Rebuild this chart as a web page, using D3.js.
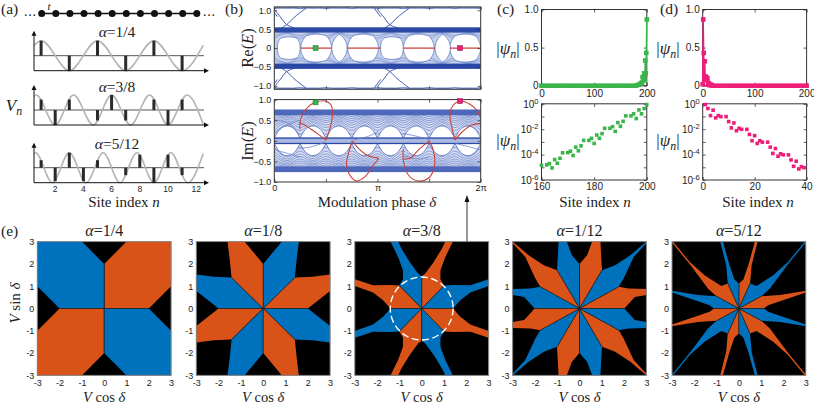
<!DOCTYPE html>
<html><head><meta charset="utf-8">
<script src="https://cdn.jsdelivr.net/npm/d3@7/dist/d3.min.js"></script>
<style>html,body{margin:0;padding:0;background:#fff}svg{display:block}</style></head><body>
<script>
// ---------- (a) lattice and modulation ----------
const chainSites=[1,2,3,4,5,6,7,8,9,10,11,12];
const siteTicks=[2,4,6,8,10,12];
const alphaLabelsA=["1/4","3/8","5/12"];
const waveA=[[.5,.7],[1,1],[3,-1],[5,1],[7,-1],[9,1],[11,-1],[12.5,.7]];
const waveB=[[.5,.9],[.65,1],[2,-1],[3.3,1],[4.7,-1],[6,1],[7.35,-1],[8.7,1],[10,-1],[11.35,1],[12.5,-.95]];
const waveC=[[.5,.95],[.6,1],[1.8,-1],[3,1],[4.2,-1],[5.4,1],[6.6,-1],[7.8,1],[9,-1],[10.2,1],[11.4,-1],[12.5,.95]];
const stemsA=[[1,1],[3,-1],[5,1],[7,-1],[9,1],[11,-1]];
const stemsB=[[1,.7],[2,-1],[3,.7],[5,-.7],[6,1],[7,-.7],[9,.7],[10,-1],[11,.7]];
const stemsC=[[1,.5],[2,-.9],[3,1],[4,-.9],[5,.5],[7,-.5],[8,.87],[9,-1],[10,.87],[11,-.5]];

// ---------- (b) spectrum, delta in units of pi ----------
const reTicks=[-1,-.5,0,.5,1], imTicks=[-1,-.5,0,.5,1], phaseTicks=[0,.5,1,1.5,2];
const holeEllipse=[[0,0],[.003,.1],[.015,.2],[.04,.27],[.11,.3],[.18,.27],[.205,.2],[.217,.1],[.22,0]];
const holeDome=[[0,0],[.004,.08],[.015,.17],[.035,.27],[.07,.34],[.15,.37],[.23,.34],[.265,.27],[.285,.17],[.296,.08],[.3,0]];
const holeLens=[[0,0],[.005,.1],[.02,.2],[.045,.3],[.075,.36],[.105,.3],[.13,.2],[.145,.1],[.15,0]];
const ellipseStarts=[.03,1.03], domeStarts=[.256,.71,1.25,1.7], lensStarts=[.556,1.557];
const redSegments=[[.256,.556],[.71,1.03],[1.25,1.557],[1.7,2]];
const edgeA=[[0,1.02],[.06,.82],[.12,.62],[.2,.53]];
const edgeB=[[.31,1.06],[.2,.83],[.12,.62],[.06,.52]];
const edgeC=[[-.03,1.05],[.03,.83]];
const outerLevels=[[1.055,1.085],[1.07,1.045]];
const reLace=[[.39,.26],[.41,.33]];
const imLevels=[[.39,.16],[.44,.25],[.48,.32],[.52,.38],[.56,.44],[.59,.49],[.62,.54],[.65,.59]];
const archProfile=[[0,.06],[.012,.12],[.035,.22],[.075,.32],[.125,.36],[.175,.32],[.215,.22],[.238,.12],[.25,.06]];
const archStarts=[0,.25,.5,.75,1,1.25,1.5,1.75];
const imThin=[
 [[.007,.505],[.136,.424],[.249,.14]],
 [[.007,.22],[.12,.383],[.249,.505]],
 [[.249,-.183],[.362,-.143],[.501,-.02]],
 [[1.25,.18],[1.395,.1],[1.51,.02]],
 [[1.751,-.06],[1.88,-.14],[1.99,-.22]],
 [[.77,.02],[.9,.1],[1.01,.22]],
 [[.007,-.22],[.12,-.3],[.249,-.4]],
 [[1.25,-.36],[1.4,-.44],[1.5,-.4]]];
const redLoops=[
 [[.249,.278],[.249,.465],[.281,.667],[.34,.853],[.401,.934],[.491,.966],[.55,.869],[.563,.626],[.54,.3],[.501,.02]],
 [[.501,.02],[.427,.157],[.346,.3],[.281,.4],[.249,.424]],
 [[.756,0],[.725,-.25],[.7,-.55],[.72,-.78],[.798,-.976],[.879,-.871],[.96,-.588],[1,-.47],[1.008,-.41]],
 [[.756,0],[.815,-.183],[.896,-.345],[1.008,-.426]],
 [[1.25,-.2],[1.25,-.466],[1.299,-.83],[1.395,-.976],[1.493,-.91],[1.551,-.628],[1.541,-.224],[1.499,0]],
 [[1.499,0],[1.395,-.224],[1.315,-.426],[1.25,-.44]],
 [[1.751,.02],[1.719,.343],[1.702,.667],[1.735,.869],[1.803,.966],[1.896,.885],[1.961,.747],[2,.545]],
 [[1.751,.02],[1.822,.22],[1.913,.383],[2,.424]]];
const greenMarks=[[.4,0],[.4,.934]], pinkMarks=[[1.8,0],[1.8,.966]];

// ---------- (c)(d) wave functions ----------
const psiCFlat=[0,8,16,24,32,40,48,56,64,72,80,88,96,104,112,120,128,136,144,152,160,168,176];
const psiCTail=[[180,.001],[184,.012],[187,.016],[189,.033],[191,.042],[192,.112],[194,.112],[195,.162],[196,.069],[197,.33],[198,.162],[199,.43],[200,.87]];
const psiDHead=[[0,.02],[1,.87],[2,.43],[3,.12],[4,.32],[5,.08],[6,.12],[7,.1],[9,.1],[10,.04],[11,.013],[12,.031],[13,.008],[14,.012],[15,.01],[17,.01],[19,.001]];
const psiDFlat=[24,32,40,48,56,64,72,80,88,96,104,112,120,128,136,144,152,160,168,176,184,192,200];
const logC=[[160,-4.84],[162,-4.81],[163,-4.71],[164,-5.05],[165,-4.39],[166,-4.68],[167,-4.29],[168,-3.86],[170,-3.84],[171,-3.73],[172,-4.07],[173,-3.41],[174,-3.7],[175,-3.31],[176,-2.88],[178,-2.88],[179,-2.72],[180,-3.12],[181,-2.46],[182,-2.72],[183,-2.35],[184,-1.93],[186,-1.93],[187,-1.8],[188,-2.17],[189,-1.48],[190,-1.77],[191,-1.38],[192,-.95],[194,-.95],[195,-.79],[196,-1.16],[197,-.48],[198,-.79],[199,-.37],[200,-.06]];
const logD=[[1,-.06],[2,-.37],[3,-.93],[4,-.5],[5,-1.11],[6,-.93],[7,-1.01],[9,-1.01],[10,-1.4],[11,-1.9],[12,-1.51],[13,-2.12],[14,-1.93],[15,-2.01],[17,-2.01],[18,-2.41],[19,-2.91],[20,-2.51],[21,-3.12],[22,-2.91],[23,-3.02],[25,-3.02],[26,-3.41],[27,-3.91],[28,-3.52],[29,-4.13],[30,-3.94],[31,-4.02],[33,-4.02],[34,-4.42],[35,-4.92],[36,-4.52],[37,-5.13],[38,-4.95],[39,-5.03]];
const logTicks=[0,-1,-2,-3,-4,-5,-6];

// ---------- (e) phase diagrams: first-quadrant regions in (V cos, V sin) ----------
const ticksE=[-3,-2,-1,0,1,2,3];
const alphaLabelsE=["1/4","1/8","3/8","1/12","5/12"];
const regions14=[{c:"o",p:[[0,0],[0,2],[1,3],[3,3],[3,1],[2,0]]}];
const regions18=[
 {c:"o",p:[[0,0],[2,0],[3,.78],[3,1.52],[2.2,1.42],[1.42,1.39]]},
 {c:"b",p:[[0,0],[1.42,1.39],[1.5,2.2],[1.6,3],[.84,3],[0,2]]}];
const regions38=[
 {c:"o",p:[[0,0],[0,1.45],[.16,1.57],[.54,2.09],[.91,2.69],[1.06,3],[1.4,3],[1.06,2.31],[.84,1.72],[.84,1.3],[1.01,1.03]]},
 {c:"b",p:[[0,0],[1.01,1.03],[1.4,1.05],[2.18,1.04],[3,1.31],[3,1.01],[2.18,.72],[1.73,.37],[1.4,0]]}];
const regions112=[
 {c:"o",p:[[0,0],[0,2],[.34,2.39],[.57,3],[.94,3],[.97,2.39],[1.01,1.72]]},
 {c:"b",p:[[0,0],[1.01,1.72],[1.6,1.94],[2.28,2.39],[3,3],[3,2.93],[2.43,2.31],[1.98,1.34],[1.76,.97]]},
 {c:"o",p:[[0,0],[1.76,.97],[2.2,.9],[3,.87],[3,.6],[2.48,.52],[2.01,0]]}];
const regions512=[
 {c:"o",p:[[0,0],[0,1.12],[.2,1.3],[.42,1.94],[.72,3],[.84,3],[.57,1.94],[.5,1.12]]},
 {c:"b",p:[[0,0],[.5,1.12],[.79,1.01],[1.54,1.49],[2.2,2.09],[2.96,3],[3,3],[3,2.96],[2.2,1.98],[1.39,.9],[1.01,.55]]},
 {c:"o",p:[[0,0],[1.01,.55],[1.84,.6],[3,.8],[3,.72],[1.84,.33],[1.31,.15],[1.12,0]]}];
const diagrams=[regions14,regions18,regions38,regions112,regions512];
const circleRadius=1.41;

// ---------- drawing ----------
const W=814,H=404;
const SERIF="'Liberation Serif',serif", SANS="'Liberation Sans',sans-serif";
const BLUE="#0072bd",ORANGE="#d95319",GREEN="#39b54a",PINK="#ed1e79",RED="#c8403a";
const DARKB="#2a48a6",MIDB="#6c84c9";
const svg=d3.select("body").append("svg").attr("width",W).attr("height",H).attr("viewBox",`0 0 ${W} ${H}`);
svg.append("rect").attr("width",W).attr("height",H).attr("fill","#fff");

function label(x,y,parts,o={}){
  const t=svg.append("text").attr("font-family",o.font||SERIF).attr("font-size",o.size||14)
    .attr("text-anchor",o.anchor||"middle").attr("fill","#222")
    .attr("transform",`translate(${x},${y})`+(o.rot?` rotate(${o.rot})`:""));
  let shift=0;
  parts.forEach(p=>{
    const s=t.append("tspan").text(p[0]);
    if(p[1]&&p[1].includes("i")) s.attr("font-style","italic");
    let d=0, size=o.size||14;
    if(p[1]&&p[1].includes("s")){d=size*.22; s.attr("font-size",size*.7);}
    s.attr("dy",d-shift); shift=d;
  });
  return t;
}
const tag=(x,y,s)=>label(x,y,[[s]],{size:15.5,anchor:"start"});
tag(1,14,"(a)");tag(225,14,"(b)");tag(497,14,"(c)");tag(660,14,"(d)");tag(1,236,"(e)");

function frame(g,x,y,o){
  const [x0,x1]=x.range(),[y0,y1]=y.range();
  const size=o.tick===undefined?3:o.tick, fs=o.fs||9;
  const style=a=>{a.select(".domain").remove();a.selectAll("line").attr("stroke","#333").attr("stroke-width",.8);
    a.selectAll("text").attr("font-family",SANS).attr("font-size",fs).attr("fill","#222");};
  const xa=d3.axisBottom(x).tickValues(o.xv).tickSizeInner(-size).tickSizeOuter(0).tickPadding(o.xpad||4).tickFormat(o.xf||(d=>String(d)));
  const ya=d3.axisLeft(y).tickValues(o.yv).tickSizeInner(-size).tickSizeOuter(0).tickPadding(o.ypad||3).tickFormat(o.yf||(d=>String(d)));
  g.append("g").attr("transform",`translate(0,${y0})`).call(xa).call(style);
  const yg=g.append("g").attr("transform",`translate(${x0},0)`).call(ya).call(style);
  g.append("g").attr("transform",`translate(0,${y1})`).call(d3.axisTop(x).tickValues(o.xv).tickSizeInner(-size).tickSizeOuter(0).tickFormat("")).call(style);
  g.append("g").attr("transform",`translate(${x1},0)`).call(d3.axisRight(y).tickValues(o.yv).tickSizeInner(-size).tickSizeOuter(0).tickFormat("")).call(style);
  g.append("rect").attr("x",x0).attr("y",y1).attr("width",x1-x0).attr("height",y0-y1).attr("fill","none").attr("stroke",o.box||"#333").attr("stroke-width",1);
  return yg;
}

// ---- (a)
const xn=d3.scaleLinear([0,13],[27,210.3]);
const gA=svg.append("g");
const chainY=13.5;
gA.append("line").attr("x1",xn(1)).attr("x2",xn(12)).attr("y1",chainY).attr("y2",chainY).attr("stroke","#111").attr("stroke-width",1.3);
gA.selectAll("circle.site").data(chainSites).join("circle").attr("cx",d=>xn(d)+.6).attr("cy",chainY).attr("r",3.5).attr("fill","#111");
label(24,15.5,[["..."]],{size:14,anchor:"start"}).attr("letter-spacing",.8);
label(203,15.5,[["..."]],{size:14,anchor:"start"}).attr("letter-spacing",.8);
label(49,9.5,[["t","i"]],{size:11});
const rows=[{mid:55.7,w:waveA,s:stemsA},{mid:110,w:waveB,s:stemsB},{mid:167.7,w:waveC,s:stemsC}];
rows.forEach((r,i)=>{
  const y=d3.scaleLinear([-1,1],[r.mid+15,r.mid-15]);
  const base=r.mid+15;
  gA.append("line").attr("x1",34).attr("x2",204).attr("y1",r.mid).attr("y2",r.mid).attr("stroke","#555").attr("stroke-width",1);
  gA.append("path").attr("d",d3.line().x(d=>xn(d[0])).y(d=>y(d[1])).curve(d3.curveMonotoneX)(r.w)).attr("fill","none").attr("stroke","#b4b4b4").attr("stroke-width",1.6);
  gA.selectAll(null).data(r.s).join("line").attr("x1",d=>xn(d[0])).attr("x2",d=>xn(d[0])).attr("y1",y(0)).attr("y2",d=>y(d[1])).attr("stroke","#2a2a2a").attr("stroke-width",3);
  gA.append("line").attr("x1",34).attr("x2",205).attr("y1",base).attr("y2",base).attr("stroke","#111").attr("stroke-width",1);
  gA.append("line").attr("x1",34).attr("x2",34).attr("y1",base).attr("y2",r.mid-21).attr("stroke","#111").attr("stroke-width",1);
  gA.append("path").attr("d",d3.line()([[209,base],[204,base-2.5],[204,base+2.5]])).attr("fill","#111");
  gA.append("path").attr("d",d3.line()([[34,r.mid-25],[31.5,r.mid-20],[36.5,r.mid-20]])).attr("fill","#111");
  label(117,r.mid-18.5,[["α","i"],["=","" ],[alphaLabelsA[i]]],{size:15.5});
});
gA.selectAll(null).data(siteTicks).join("text").attr("x",d=>xn(d)).attr("y",191.5).attr("text-anchor","middle").attr("font-family",SANS).attr("font-size",8.5).attr("fill","#222").text(d=>d);
label(124,207,[["Site index "],["n","i"]],{size:15});
label(14,111,[["V","i"],["n","is"]],{size:17});

// ---- (b)
const xd=d3.scaleLinear([0,2],[274.3,480.7]);
const phaseFmt=d=>d===0?"0":d===1?"π":d===2?"2π":"";
const yRe=d3.scaleLinear([-1.09,1.09],[89.3,6.9]);
const yIm=d3.scaleLinear([-1,1],[182,99.6]);
svg.append("defs").html(`<clipPath id="cRe"><rect x="274.3" y="6.9" width="206.4" height="82.4"/></clipPath><clipPath id="cIm"><rect x="274.3" y="99.6" width="206.4" height="82.4"/></clipPath>`);
const lineOf=y=>d3.line().x(d=>xd(d[0])).y(d=>y(d[1]));
// level lines: a maximum at the middle of a cell, a minimum at its ends
const cellNodes=[0,.125,.25,.375,.5,.625,.75,.875,1,1.125,1.25,1.375,1.5,1.625,1.75,1.875,2];
const levelLine=(l,sign)=>cellNodes.map((d,i)=>[d,sign*(i%2?l[0]:l[1])]);
const gRe=svg.append("g").attr("clip-path","url(#cRe)");
const band=(g,y,a,b,f)=>g.append("rect").attr("x",xd(0)).attr("width",xd(2)-xd(0)).attr("y",y(b)).attr("height",y(a)-y(b)).attr("fill",f);
band(gRe,yRe,-.42,.42,"#c4cfec");
reLace.forEach(l=>[1,-1].forEach(s=>gRe.append("path").attr("d",lineOf(yRe).curve(d3.curveMonotoneX)(levelLine(l,s))).attr("fill","none").attr("stroke",MIDB).attr("stroke-width",.6)));
band(gRe,yRe,.41,.55,DARKB);band(gRe,yRe,-.55,-.41,DARKB);
const holeArea=d3.area().x(d=>xd(d[0])).y0(d=>yRe(-d[1])).y1(d=>yRe(d[1])).curve(d3.curveMonotoneX);
[[holeEllipse,ellipseStarts],[holeDome,domeStarts],[holeLens,lensStarts]].forEach(([prof,starts])=>{
  starts.forEach(s=>gRe.append("path").attr("d",holeArea(prof.map(p=>[p[0]+s,p[1]]))).attr("fill","#fff").attr("stroke","#5570c0").attr("stroke-width",.7));
});
gRe.selectAll(null).data(redSegments).join("line").attr("x1",d=>xd(d[0])).attr("x2",d=>xd(d[1])).attr("y1",yRe(0)).attr("y2",yRe(0)).attr("stroke",RED).attr("stroke-width",1.1);
[0,1].forEach(shift=>[1,-1].forEach(s=>[edgeA,edgeB,edgeC].forEach(e=>{
  gRe.append("path").attr("d",lineOf(yRe).curve(d3.curveCatmullRom)(e.map(p=>[p[0]+shift,s*p[1]]))).attr("fill","none").attr("stroke",DARKB).attr("stroke-width",.9);
})));
outerLevels.forEach(l=>[1,-1].forEach(s=>gRe.append("path").attr("d",lineOf(yRe).curve(d3.curveMonotoneX)(levelLine(l,s))).attr("fill","none").attr("stroke","#4360b6").attr("stroke-width",.8)));
gRe.selectAll(null).data(greenMarks.slice(0,1)).join("rect").attr("x",d=>xd(d[0])-2.5).attr("y",d=>yRe(d[1])-2.5).attr("width",5).attr("height",5).attr("fill",GREEN).attr("stroke","#1d6e2b").attr("stroke-width",.5);
gRe.selectAll(null).data(pinkMarks.slice(0,1)).join("rect").attr("x",d=>xd(d[0])-2.5).attr("y",d=>yRe(d[1])-2.5).attr("width",5).attr("height",5).attr("fill",PINK).attr("stroke","#8c1047").attr("stroke-width",.5);
frame(svg.append("g"),xd,yRe,{xv:phaseTicks,yv:reTicks,xf:()=>"",yf:d=>d===0?"0":d3.format(".1f")(d)});

const gIm=svg.append("g").attr("clip-path","url(#cIm)");
band(gIm,yIm,-.75,.75,"#d5dcf2");
[1,-1].forEach(s=>{
  imLevels.forEach(l=>gIm.append("path").attr("d",lineOf(yIm).curve(d3.curveMonotoneX)(levelLine(l,s))).attr("fill","none").attr("stroke",MIDB).attr("stroke-width",.7));
  archStarts.forEach(a=>{
    const top=archProfile.map(p=>[p[0]+a,s*p[1]]);
    gIm.append("path").attr("d",d3.area().x(d=>xd(d[0])).y0(yIm(s*.06)).y1(d=>yIm(d[1])).curve(d3.curveMonotoneX)(top)).attr("fill","#fff").attr("stroke","#4a66ba").attr("stroke-width",.8);
  });
});
band(gIm,yIm,.62,.76,"#4d68bb");band(gIm,yIm,-.76,-.62,"#4d68bb");
band(gIm,yIm,-.08,.08,"#a9b8e2");
band(gIm,yIm,.05,.08,DARKB);band(gIm,yIm,-.08,-.05,DARKB);
imThin.forEach(e=>gIm.append("path").attr("d",lineOf(yIm).curve(d3.curveCatmullRom)(e)).attr("fill","none").attr("stroke",MIDB).attr("stroke-width",.8));
svg.append("g").attr("clip-path","url(#cIm)").selectAll(null).data(redLoops).join("path").attr("d",lineOf(yIm).curve(d3.curveCatmullRom)).attr("fill","none").attr("stroke",RED).attr("stroke-width",1.1);
frame(svg.append("g"),xd,yIm,{xv:phaseTicks,yv:imTicks,xf:phaseFmt,yf:d=>d===0?"0":d3.format(".1f")(d),xpad:3});
[[greenMarks[1],GREEN,"#1d6e2b"],[pinkMarks[1],PINK,"#8c1047"]].forEach(([d,f,st])=>svg.append("rect").attr("x",xd(d[0])-2.5).attr("y",yIm(d[1])-2.5).attr("width",5).attr("height",5).attr("fill",f).attr("stroke",st).attr("stroke-width",.5));
label(253,48,[["Re("],["E","i"],[")"]],{size:16.5,rot:-90});
label(253,141,[["Im("],["E","i"],[")"]],{size:16.5,rot:-90});
label(377,207,[["Modulation phase "],["δ","i"]],{size:15});

// ---- (c) (d)
function psiPanel(x0,x1,dTicks,logAxis,color,linePts,logPts,labelX,siteCx){
  const xt=d3.scaleLinear([0,200],[x0,x1]), yt=d3.scaleLinear([0,1],[85.7,9.5]);
  const gT=svg.append("g");
  frame(gT,xt,yt,{xv:dTicks,yv:[0,.5,1],fs:10,yf:d=>d===0?"0":d3.format(".1f")(d),xpad:4,ypad:3});
  gT.append("path").attr("d",d3.line().x(d=>xt(d[0])).y(d=>yt(d[1]))(linePts)).attr("fill","none").attr("stroke",color).attr("stroke-width",1.4);
  gT.selectAll("rect.m").data(linePts).join("rect").attr("class","m").attr("x",d=>xt(d[0])-2.3).attr("y",d=>yt(d[1])-2.3).attr("width",4.6).attr("height",4.6).attr("fill",color);
  const xb=d3.scaleLinear(logAxis.dom,[x0,x1]), yb=d3.scaleLinear([-6,0],[180,103.8]);
  const gB=svg.append("g");
  const yg=frame(gB,xb,yb,{xv:logAxis.ticks,yv:logTicks,fs:10,xpad:3,ypad:3});
  yg.selectAll(".tick text").each(function(d){
    const lab=d3.select(this);
    if(d%2){lab.text("");return;}
    lab.text("10").append("tspan").attr("dy",-4).attr("font-size",7.5).text(String(d));
  });
  gB.selectAll("rect.m").data(logPts).join("rect").attr("class","m").attr("x",d=>xb(d[0])-1.8).attr("y",d=>yb(d[1])-1.8).attr("width",3.6).attr("height",3.6).attr("fill",color);
  label(labelX,54,[["|"],["ψ","i"],["n","is"],["|"]],{size:17});
  label(labelX,146,[["|"],["ψ","i"],["n","is"],["|"]],{size:17});
  label(siteCx,207,[["Site index "],["n","i"]],{size:15});
}
psiPanel(541.5,646.8,[0,100,200],{dom:[160,200],ticks:[160,180,200]},GREEN,
  psiCFlat.map(n=>[n,0]).concat(psiCTail),logC,508,595);
psiPanel(702.7,806.6,[0,100,200],{dom:[0,40],ticks:[0,20,40]},PINK,
  psiDHead.concat(psiDFlat.map(n=>[n,0])),logD,668,758);

// ---- (e)
const eLeft=[37.3,196.3,354.8,512.6,672];
const eSize=133.8, eTop=241.6, eBot=375.4;
const quadrants=[[1,1,false],[-1,1,true],[-1,-1,false],[1,-1,true]];
diagrams.forEach((regs,i)=>{
  const x=d3.scaleLinear([-3,3],[eLeft[i],eLeft[i]+eSize]), y=d3.scaleLinear([-3,3],[eBot,eTop]);
  const g=svg.append("g");
  g.append("rect").attr("x",x(-3)).attr("y",y(3)).attr("width",eSize).attr("height",eBot-eTop).attr("fill","#000");
  const ln=d3.line().x(d=>x(d[0])).y(d=>y(d[1]));
  quadrants.forEach(([sx,sy,flip])=>regs.forEach(r=>{
    const isO=(r.c==="o")!==flip;
    const pts=r.p.map(p=>[sx*p[0],sy*p[1]]);
    g.append("path").attr("d",ln(pts)+"Z").attr("fill",isO?ORANGE:BLUE);
    [pts[1],pts[pts.length-1]].forEach(e=>g.append("path").attr("d",ln([pts[0],e])).attr("stroke","#1a1a1a").attr("stroke-width",.6));
  }));
  if(i===2) g.append("circle").attr("cx",x(0)).attr("cy",y(0)).attr("r",x(circleRadius)-x(0)).attr("fill","none").attr("stroke","#fff").attr("stroke-width",1.4).attr("stroke-dasharray","7 3.5");
  frame(g,x,y,{xv:ticksE,yv:ticksE,tick:0,fs:9,box:"#888",xpad:4,ypad:3});
  label(x(0),236,[["α","i"],["="],[alphaLabelsE[i]]],{size:16});
  label(x(0),402,[["V","i"],[" cos "],["δ","i"]],{size:14.5});
});
label(20,303,[["V","i"],[" sin "],["δ","i"]],{size:15,rot:-90});
svg.append("line").attr("x1",467).attr("x2",467).attr("y1",241.5).attr("y2",200).attr("stroke","#333").attr("stroke-width",1);
svg.append("path").attr("d",d3.line()([[467,195],[464.5,202],[469.5,202]])).attr("fill","#111");
</script>
</body></html>
